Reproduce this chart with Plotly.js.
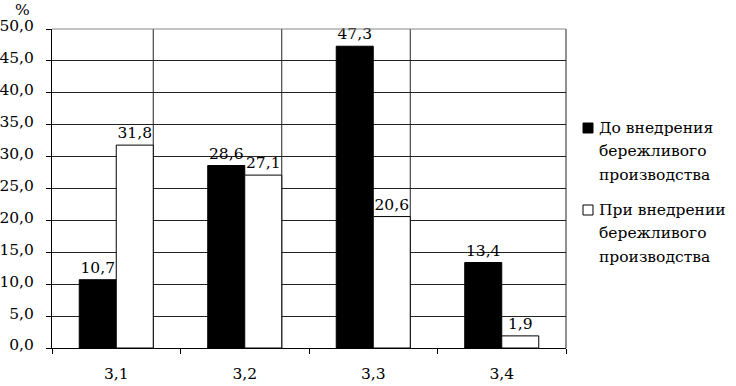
<!DOCTYPE html>
<html><head><meta charset="utf-8">
<script src="https://cdn.plot.ly/plotly-3.0.1.min.js"></script>
<style>html,body{margin:0;padding:0;background:#fff}</style>
</head><body><div id="chart" style="width:736px;height:386px"></div>
<script>
const categories = ['3,1', '3,2', '3,3', '3,4'];
const seriesBefore = [10.7, 28.6, 47.3, 13.4];
const seriesDuring = [31.8, 27.1, 20.6, 1.9];
const legendBefore = ['До внедрения', 'бережливого', 'производства'];
const legendDuring = ['При внедрении', 'бережливого', 'производства'];

const FONT = 'DejaVu Serif';
const FS = 15.5;
const fmt = v => v.toFixed(1).replace('.', ',');
const BARGAP = 0.424;
const half = (1 - BARGAP) / 2;

const W = 736, H = 386, M = {l:52, r:170, t:29, b:38};
const pw = W - M.l - M.r, ph = H - M.t - M.b;
const px = x => (x - M.l) / pw;
const py = y => (H - M.b - y) / ph;

const traces = [
  {type:'bar', x:categories, y:seriesBefore, name:legendBefore.join(' '),
   marker:{color:'#000', line:{color:'#000', width:1}},
   text:seriesBefore.map(fmt), textposition:'outside', cliponaxis:false,
   textfont:{family:FONT, size:FS, color:'#000'}},
  {type:'bar', x:categories, y:seriesDuring, name:legendDuring.join(' '),
   marker:{color:'#fff', line:{color:'#000', width:1}},
   text:seriesDuring.map(fmt), textposition:'outside', cliponaxis:false,
   textfont:{family:FONT, size:FS, color:'#000'}}
];

const shapes = categories.slice(0, -1).map((c, i) => ({
  type:'line', xref:'x', yref:'paper', x0:i + half, x1:i + half, y0:0, y1:1,
  line:{color:'#222', width:1}, layer:'below'
}));
shapes.push({type:'line', xref:'paper', yref:'paper', x0:1, x1:1, y0:0, y1:1,
  line:{color:'#222', width:1}, layer:'below'});
shapes.push({type:'line', xref:'paper', yref:'paper', x0:0, x1:1, y0:1, y1:1,
  line:{color:'#888', width:1}, layer:'above'});

// legend drawn manually (squares + text lines)
const legendEntries = [
  {lines:legendBefore, fill:'#000', top:128},
  {lines:legendDuring, fill:'#fff', top:210}
];
const annotations = [{text:'%', xref:'paper', yref:'paper', x:px(22), y:py(10),
  xanchor:'center', yanchor:'middle', showarrow:false,
  font:{family:FONT, size:FS, color:'#000'}}];
legendEntries.forEach(e => {
  shapes.push({type:'rect', xref:'paper', yref:'paper',
    x0:px(583), x1:px(593), y0:py(e.top + 5), y1:py(e.top - 5),
    fillcolor:e.fill, line:{color:'#000', width:1}});
  e.lines.forEach((t, k) => annotations.push({text:t, xref:'paper', yref:'paper',
    x:px(597), y:py(e.top + k * 23.3), xanchor:'left', yanchor:'middle',
    showarrow:false, font:{family:FONT, size:FS, color:'#000'}}));
});

const layout = {
  width:W, height:H, margin:M,
  paper_bgcolor:'#fff', plot_bgcolor:'#fff',
  font:{family:FONT, size:FS, color:'#000'},
  separators:', ',
  barmode:'group', bargap:BARGAP, bargroupgap:0,
  showlegend:false,
  xaxis:{type:'category', tickson:'boundaries', ticks:'outside', ticklen:5,
    tickcolor:'#000', showgrid:false, showline:true, linecolor:'#000',
    linewidth:1, tickfont:{family:FONT, size:FS}, ticklabelstandoff:11,
    fixedrange:true},
  yaxis:{range:[0,50], dtick:5, tickformat:'.1f', ticks:'outside', ticklen:5,
    tickcolor:'#000', showline:true, linecolor:'#000', linewidth:1,
    gridcolor:'#222', gridwidth:1, zeroline:false, ticklabelshift:-3,
    ticklabelstandoff:9,
    tickfont:{family:FONT, size:FS}, fixedrange:true},
  shapes:shapes,
  annotations:annotations
};

Plotly.newPlot('chart', traces, layout, {displayModeBar:false, staticPlot:true});
</script></body></html>
